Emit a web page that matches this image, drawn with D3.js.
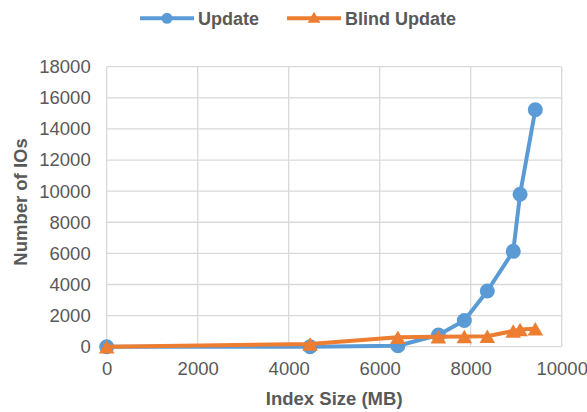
<!DOCTYPE html>
<html><head><meta charset="utf-8">
<script src="https://cdn.jsdelivr.net/npm/d3@7"></script>
<style>body{margin:0;background:#fff;}svg{display:block;font-family:"Liberation Sans",Arial,sans-serif;}</style>
</head><body>
<svg id="c" width="587" height="412"></svg>
<script>
const updateX = [0, 4470, 6400, 7290, 7860, 8365, 8935, 9085, 9420];
const updateY = [0, 0, 60, 750, 1680, 3580, 6130, 9800, 15230];
const blindX = [0, 4470, 6400, 7290, 7860, 8365, 8935, 9085, 9420];
const blindY = [0, 170, 600, 640, 650, 670, 1010, 1100, 1150];
const xTicks = [0, 2000, 4000, 6000, 8000, 10000];
const yTicks = [0, 2000, 4000, 6000, 8000, 10000, 12000, 14000, 16000, 18000];
const seriesNames = ["Update", "Blind Update"];
const colors = ["#5b9bd5", "#ed7d31"];

const svg = d3.select("#c");
const L = 106.7, R = 561.7, T = 66.7, B = 346.7;
const x = d3.scaleLinear().domain([0, 10000]).range([L, R]);
const y = d3.scaleLinear().domain([0, 18000]).range([B, T]);
const textCol = "#595959";
const fs = "18.5px";

// gridlines
const g = svg.append("g");
g.selectAll(".gx").data(xTicks).join("line")
  .attr("x1", d => x(d)).attr("x2", d => x(d)).attr("y1", T).attr("y2", B)
  .attr("stroke", "#d9d9d9").attr("stroke-width", 1.3);
g.selectAll(".gy").data(yTicks).join("line")
  .attr("x1", L).attr("x2", R).attr("y1", d => y(d)).attr("y2", d => y(d))
  .attr("stroke", "#d9d9d9").attr("stroke-width", 1.3);

// axes
const xAxis = svg.append("g").attr("transform", `translate(0,${B})`)
  .call(d3.axisBottom(x).tickValues(xTicks).tickSize(0).tickPadding(15.5).tickFormat(d3.format("d")));
const yAxis = svg.append("g").attr("transform", `translate(${L},0)`)
  .call(d3.axisLeft(y).tickValues(yTicks).tickSize(0).tickPadding(16).tickFormat(d3.format("d")));
[xAxis, yAxis].forEach(a => {
  a.select(".domain").remove();
  a.selectAll("text").attr("fill", textCol).style("font-size", fs).style("font-family", "Liberation Sans, Arial, sans-serif");
});

// axis titles
svg.append("text").attr("x", x(5000)).attr("y", 405).attr("text-anchor", "middle")
  .attr("fill", textCol).style("font-size", fs).style("font-weight", "bold").text("Index Size (MB)");
svg.append("text").attr("transform", `translate(27,202) rotate(-90)`).attr("text-anchor", "middle")
  .attr("fill", textCol).style("font-size", fs).style("font-weight", "bold").text("Number of IOs");

const line = d3.line().x(d => x(d[0])).y(d => y(d[1]));
const updData = updateX.map((d, i) => [d, updateY[i]]);
const blindData = blindX.map((d, i) => [d, blindY[i]]);

svg.append("path").datum(updData).attr("d", line).attr("fill", "none")
  .attr("stroke", colors[0]).attr("stroke-width", 4).attr("stroke-linejoin", "round");
svg.selectAll(".pu").data(updData).join("circle")
  .attr("cx", d => x(d[0])).attr("cy", d => y(d[1])).attr("r", 7.5).attr("fill", colors[0]);

svg.append("path").datum(blindData).attr("d", line).attr("fill", "none")
  .attr("stroke", colors[1]).attr("stroke-width", 4).attr("stroke-linejoin", "round");
const tri = d3.symbol().type(d3.symbolTriangle).size(105);
svg.selectAll(".pb").data(blindData).join("path")
  .attr("transform", d => `translate(${x(d[0])},${y(d[1]) + 2.2})`).attr("d", tri).attr("fill", colors[1]);

// legend
const lg = svg.append("g");
const items = [{x: 140, name: seriesNames[0], c: colors[0], s: "circle"}, {x: 287, name: seriesNames[1], c: colors[1], s: "tri"}];
items.forEach(it => {
  lg.append("line").attr("x1", it.x).attr("x2", it.x + 54).attr("y1", 18.3).attr("y2", 18.3)
    .attr("stroke", it.c).attr("stroke-width", 4);
  if (it.s === "circle") lg.append("circle").attr("cx", it.x + 27).attr("cy", 18.3).attr("r", 5.5).attr("fill", it.c);
  else lg.append("path").attr("transform", `translate(${it.x + 27},19)`).attr("d", d3.symbol().type(d3.symbolTriangle).size(70)).attr("fill", it.c);
  lg.append("text").attr("x", it.x + 58).attr("y", 25).attr("fill", textCol)
    .style("font-size", "18px").style("font-weight", "bold").text(it.name);
});
</script>
</body></html>
